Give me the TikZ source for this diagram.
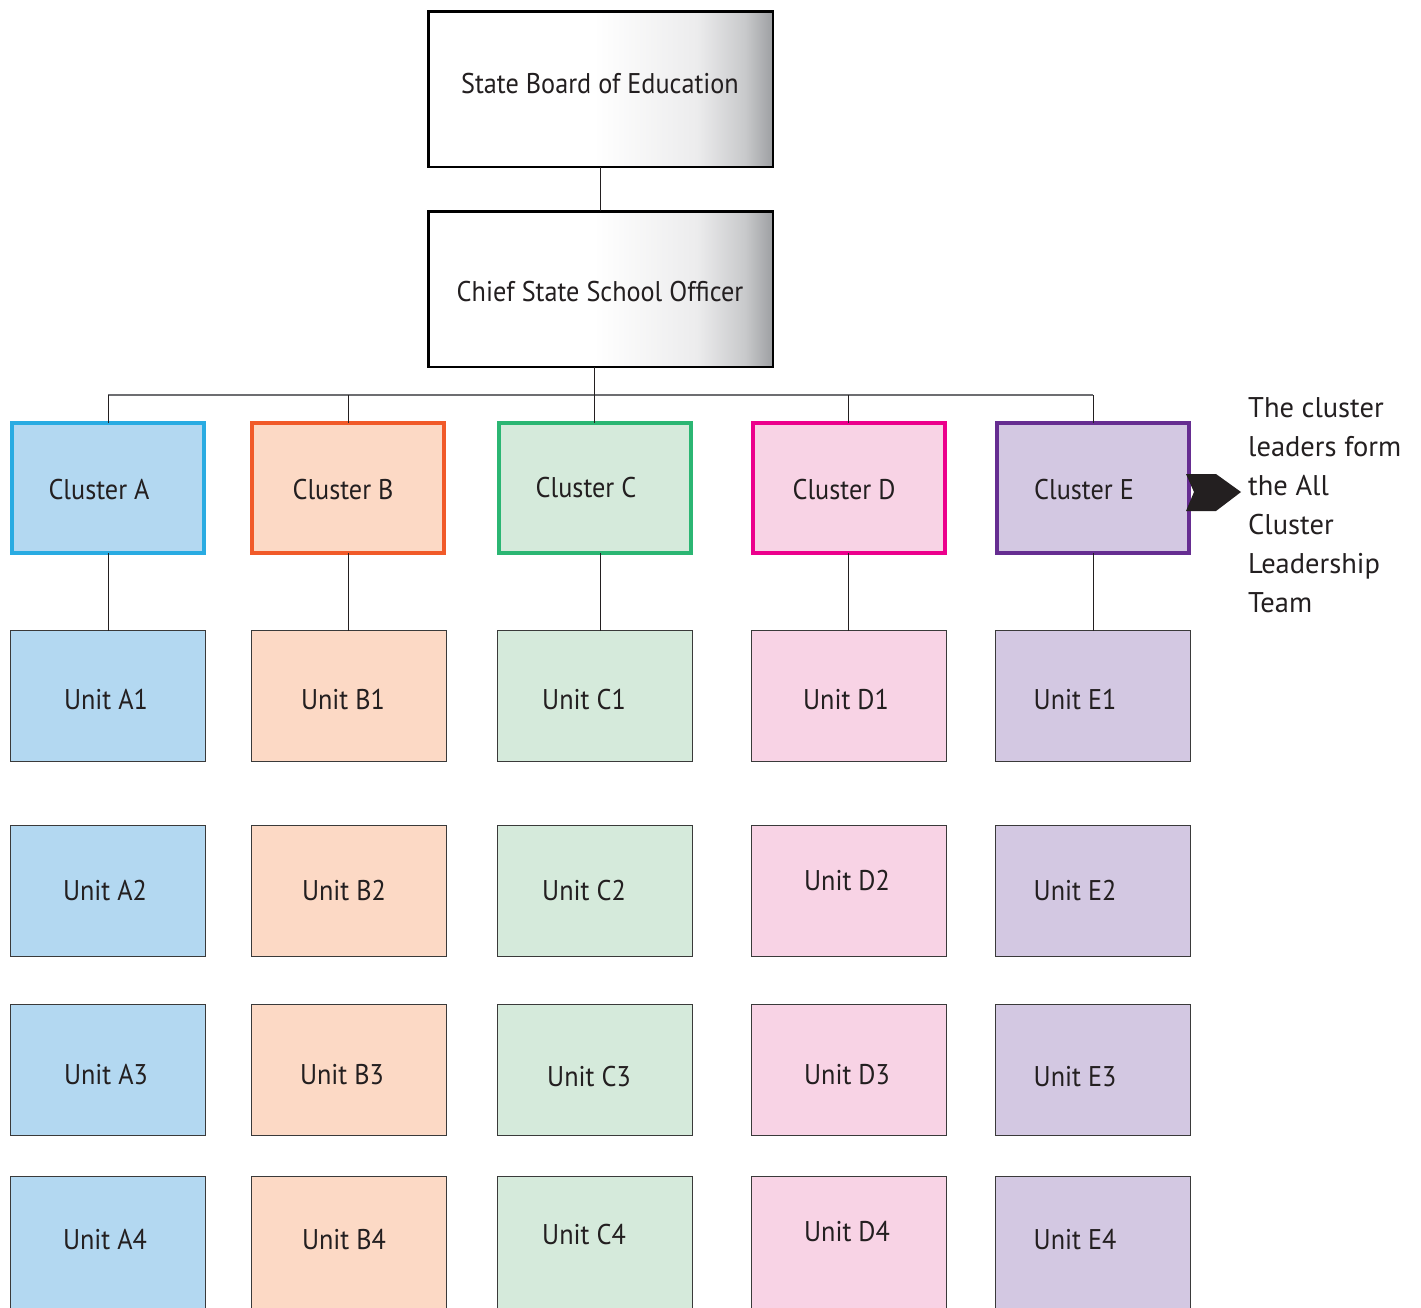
\documentclass[tikz,border=0pt]{standalone}
\usepackage{fontspec}
\setmainfont{PT Sans}
\newfontfamily\boxfont[FakeStretch=0.92]{PT Sans}
\usetikzlibrary{calc}
\definecolor{txtc}{HTML}{231F20}
\definecolor{gA}{HTML}{ECECED}
\definecolor{gM}{HTML}{C8C9CB}
\definecolor{gB}{HTML}{9D9FA2}
\definecolor{Abd}{HTML}{29ABE2}\definecolor{Afl}{HTML}{B3D8F1}
\definecolor{Bbd}{HTML}{F15A29}\definecolor{Bfl}{HTML}{FCD9C5}
\definecolor{Cbd}{HTML}{2BB673}\definecolor{Cfl}{HTML}{D5EADB}
\definecolor{Dbd}{HTML}{EC008C}\definecolor{Dfl}{HTML}{F8D3E5}
\definecolor{Ebd}{HTML}{662D91}\definecolor{Efl}{HTML}{D3C8E2}
\definecolor{ubd}{HTML}{3A3A3A}
\definecolor{busc}{HTML}{6D6E71}
\pgfdeclarehorizontalshading{topgrad}{100bp}{color(0bp)=(white); color(49bp)=(white); color(64bp)=(gA); color(71bp)=(gM); color(75bp)=(gB); color(100bp)=(gB)}
\tikzset{
  topbox/.style={draw=black, line width=2.5pt, shading=topgrad, minimum width=344.5pt, minimum height=155.5pt, inner sep=0pt, outer sep=0pt},
  clus/.style 2 args={draw=#1, fill=#2, line width=4pt, minimum width=192pt, minimum height=130pt, inner sep=0pt, outer sep=0pt},
  unitbox/.style={draw=ubd, fill=#1, line width=1pt, minimum width=195pt, minimum height=131pt, inner sep=0pt, outer sep=0pt},
  txt/.style={font=\boxfont\fontsize{28.5}{34}\selectfont, text=txtc, inner sep=0pt},
  conn/.style={draw=txtc, line width=1pt},
  bus/.style={draw=busc, line width=1.6pt},
}
\begin{document}
\begin{tikzpicture}[x=1pt,y=-1pt]
\useasboundingbox (0,0) rectangle (1421,1307);
\clip (0,0) rectangle (1421,1307);
% top boxes
\node[topbox] (sbe) at (600.5,89) {};
\node[txt] (sbet) at (600,84) {State Board of Education};
\node[topbox] (csso) at (600.5,289) {};
\node[txt] (cssot) at (600,292) {Chief State School Officer};
% clusters
\node[clus={Abd}{Afl}] (cA) at (108,488) {};
\node[clus={Bbd}{Bfl}] (cB) at (348,488) {};
\node[clus={Cbd}{Cfl}] (cC) at (594.5,488) {};
\node[clus={Dbd}{Dfl}] (cD) at (848.5,488) {};
\node[clus={Ebd}{Efl}] (cE) at (1093,488) {};
\node[txt] (cAt) at (99,490) {Cluster A};
\node[txt] (cBt) at (343,490) {Cluster B};
\node[txt] (cCt) at (586,488) {Cluster C};
\node[txt] (cDt) at (844,490) {Cluster D};
\node[txt] (cEt) at (1084,490) {Cluster E};
% units rows
\foreach \c/\x in {A/108,B/348.5,C/594.5,D/848.5,E/1093}{
  \node[unitbox=\c fl] (u\c1) at (\x,696) {};
  \node[unitbox=\c fl] (u\c2) at (\x,891) {};
  \node[unitbox=\c fl] (u\c3) at (\x,1070) {};
  \node[unitbox=\c fl, minimum height=150pt] (u\c4) at (\x,1251) {};
}
\node[txt] (tA1) at (106,700) {Unit A1};
\node[txt] (tB1) at (343,700) {Unit B1};
\node[txt] (tC1) at (584,700) {Unit C1};
\node[txt] (tD1) at (846,700) {Unit D1};
\node[txt] (tE1) at (1075,700) {Unit E1};
\node[txt] (tA2) at (105,891) {Unit A2};
\node[txt] (tB2) at (344,891) {Unit B2};
\node[txt] (tC2) at (584,891) {Unit C2};
\node[txt] (tD2) at (847,881) {Unit D2};
\node[txt] (tE2) at (1075,891) {Unit E2};
\node[txt] (tA3) at (106,1075) {Unit A3};
\node[txt] (tB3) at (342,1075) {Unit B3};
\node[txt] (tC3) at (589,1077) {Unit C3};
\node[txt] (tD3) at (847,1075) {Unit D3};
\node[txt] (tE3) at (1075,1077) {Unit E3};
\node[txt] (tA4) at (105,1240) {Unit A4};
\node[txt] (tB4) at (344,1240) {Unit B4};
\node[txt] (tC4) at (584,1235) {Unit C4};
\node[txt] (tD4) at (847,1232) {Unit D4};
\node[txt] (tE4) at (1075,1240) {Unit E4};
% connectors
\draw[conn] (sbe) -- (csso);
\coordinate (busy) at (0,395);
\draw[bus] (cA.north |- busy) -- (cE.north |- busy);
\draw[conn] (csso.south -| cC.north) -- (cC.north);
\foreach \c in {A,B,D,E}{
  \draw[conn] (c\c.north) -- (c\c.north |- busy);
  \draw[conn] (c\c.south) -- (c\c.south |- u\c1.north);
}
\draw[conn] ([xshift=5.5pt]cC.south) -- ([xshift=5.5pt]uC1.north);
% arrow
\fill[txtc] (1186,474) -- (1216,474) -- (1241,492) -- (1216,511) -- (1186,511) -- (1194,492) -- cycle;
\node[anchor=north west, align=left, inner sep=0pt, text=txtc, font=\fontsize{28.5}{39}\selectfont] (side) at (1248,397)
  {The cluster\\leaders form\\the All\\Cluster\\Leadership\\Team};
\end{tikzpicture}
\end{document}
